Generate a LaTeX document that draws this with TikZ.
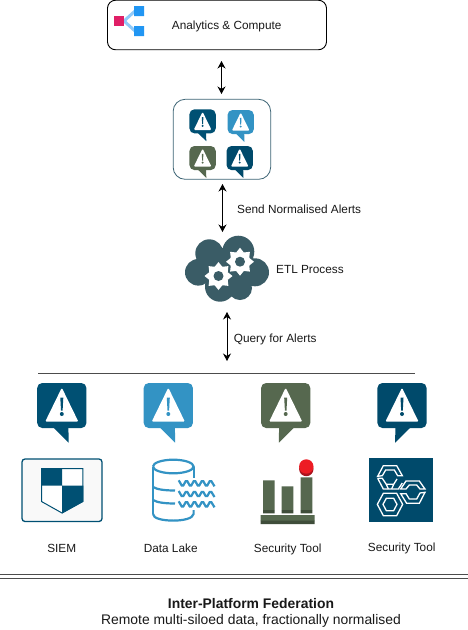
\documentclass[tikz,border=0pt]{standalone}
\usepackage{fontspec}
\usetikzlibrary{arrows.meta}
\setmainfont{Liberation Sans}
\definecolor{alA}{HTML}{005073}
\definecolor{alB}{HTML}{3393C4}
\definecolor{alC}{HTML}{56684F}
\definecolor{alD}{HTML}{004A6B}
\definecolor{cloudc}{HTML}{3A5C66}
\definecolor{boxedge}{HTML}{3D6475}
\definecolor{darkgreen}{HTML}{3F4D3A}
\definecolor{pinkc}{HTML}{E01F66}
\definecolor{bluec}{HTML}{2196F3}
\definecolor{lightb}{HTML}{90CAF9}
\definecolor{paper}{HTML}{F9F9F9}
\definecolor{redtop}{HTML}{ED1C24}
\definecolor{redlow}{HTML}{AA141E}
\tikzset{
  lbl/.style={font=\fontsize{11.8}{13}\selectfont,text=black!90,inner sep=0pt},
  biarrow/.style={{Stealth[length=7.5pt,width=8pt]}-{Stealth[length=7.5pt,width=8pt]},line width=0.9pt,black},
  hrule/.style={line width=0.9pt,black!70},
  hexline/.style={draw=white,line width=1.3pt,line join=miter},
  wavy/.style={draw=alB,line width=2.2pt,rounded corners=1.6pt},
}
\newcommand{\alertb}[5]{%
  \begin{scope}[shift={(#1,#2)},xscale=#4*#3,yscale=#3]
    \fill[#5,rounded corners=5pt] (-24.6,0) rectangle (24.6,45);
    \fill[#5] (-8.5,44.5) -- (6.9,59.7) -- (6.6,44.5) -- cycle;
    \fill[white,rounded corners=1.2pt] (0,4.7) -- (16.6,38.7) -- (-16.6,38.7) -- cycle;
    \fill[#5] (-1.5,14.7) -- (1.5,14.7) -- (0.8,27.5) -- (-0.8,27.5) -- cycle;
    \fill[#5] (0,31) circle (2);
  \end{scope}}
\newcommand{\gearicon}[2]{%
  \begin{scope}[shift={(#1,#2)}]
    \fill[white] (0,0) circle (10);
    \foreach \a in {0,45,...,315}{
      \fill[white,rotate=\a] (-4,-9) -- (0,-14) -- (4,-9) -- cycle;
    }
    \fill[cloudc] (0,0) circle (5);
  \end{scope}}
\begin{document}
\begin{tikzpicture}[x=1pt,y=-1pt,line cap=butt]
\useasboundingbox (0,0) rectangle (468,630);
\fill[white] (0,0) rectangle (468,630);
% top box
\node[draw=black,line width=0.9pt,rounded corners=8pt,minimum width=219pt,minimum height=49.5pt,inner sep=0pt] (top) at (217,25) {};
\draw[line width=3pt,lightb] (124,21) -- (135,11) (124,21) -- (135,31);
\fill[pinkc] (114,16) rectangle (124,26);
\fill[bluec] (134,6) rectangle (144,16) (134,26) rectangle (144,36);
\node[lbl] (tlabel) at (226.7,26.2) {Analytics \& Compute};
% small box
\node[draw=boxedge,line width=0.8pt,rounded corners=12pt,minimum width=97.5pt,minimum height=80pt,inner sep=0pt] (small) at (221.9,139.3) {};
\alertb{202.6}{109.3}{0.535}{1}{alA}
\alertb{240.7}{110}{0.535}{1}{alB}
\alertb{202.6}{146}{0.535}{1}{alC}
\alertb{239.7}{146}{0.535}{1}{alD}
% arrows
\coordinate (a1t) at (221.5,61);
\coordinate (a1b) at (221.5,94);
\draw[biarrow] (a1t) -- (a1b);
\coordinate (a2t) at (222.5,184);
\coordinate (a2b) at (222.5,232);
\draw[biarrow] (a2t) -- (a2b);
\coordinate (a3t) at (227,312);
\coordinate (a3b) at (227,361);
\draw[biarrow] (a3t) -- (a3b);
\node[lbl,anchor=west] (send) at (237,209.5) {Send Normalised Alerts};
\node[lbl,anchor=west] (etl) at (276,269) {ETL Process};
\node[lbl,anchor=west] (query) at (233.7,339) {Query for Alerts};
% cloud
\fill[cloudc] (209.3,253.3) circle (14) (238.3,251.7) circle (16) (255,272.3) circle (14)
  (198.3,272.3) circle (13.3) (220,286.7) circle (15) (240,288) circle (12) (225,270) circle (20);
\gearicon{218.5}{276}
\gearicon{240}{261.7}
% rule
\coordinate (r1) at (38,373.5);
\coordinate (r2) at (415,373.5);
\draw[hrule] (r1) -- (r2);
% large alerts
\alertb{61.8}{383}{1}{1}{alA}
\alertb{168.3}{383}{1}{1}{alB}
\alertb{285.7}{383}{1}{-1}{alC}
\alertb{402}{383}{1}{-1}{alD}
% SIEM
\fill[paper,draw=alA,line width=1.3pt,rounded corners=3pt] (22,459) rectangle (102,521.5);
\begin{scope}
  \clip (41,468) -- (83.3,468) -- (83.3,501.7) -- (62,513.5) -- (41,501.7) -- cycle;
  \fill[white] (41,468) rectangle (83.3,514);
  \fill[alA] (41,468) rectangle (62,485.7) (62,485.7) rectangle (83.3,514);
\end{scope}
\draw[alA,line width=1pt,line join=miter] (41.5,468.5) -- (82.8,468.5) -- (82.8,501.5) -- (62,513) -- (41.5,501.5) -- cycle;
% Data lake
\begin{scope}[alB,line width=2.2pt]
  \draw (153,466.5) arc[start angle=180,end angle=540,x radius=20.3,y radius=6.8];
  \draw (153,466.5) -- (153,514);
  \draw (193.6,466.5) -- (193.6,478);
  \draw (153,514) .. controls (153,518.5) and (163,520.6) .. (173.3,520.6) .. controls (183,520.6) and (193,518.5) .. (193.6,514) -- (193.6,510);
  \draw (153,487) .. controls (157,489.5) and (165,490.5) .. (175,490.5);
  \draw (153,500) .. controls (157,502.5) and (165,503.5) .. (175,503.5);
\end{scope}
\foreach \yy in {483.3,494,504.3}{
  \draw[wavy] (178.7,\yy-3) -- (182.5,\yy+3.5) -- (186.5,\yy-3.5) -- (190.5,\yy+3.5) -- (194.5,\yy-3.5) -- (198.5,\yy+3.5) -- (202.5,\yy-3.5) -- (206.5,\yy+3.5) -- (210.5,\yy-3.5) -- (214.5,\yy+3);
}
% Security tool chart
\fill[alC] (263,480.3) rectangle (274.7,510) (281.7,486.3) rectangle (293.3,510) (300.7,477.3) rectangle (312.3,510) (260.7,515) rectangle (314.7,521);
\fill[darkgreen] (263,510) rectangle (274.7,513.3) (281.7,510) rectangle (293.3,513.3) (300.7,510) rectangle (312.3,513.3) (260.7,520.5) rectangle (314.7,524);
\fill[redlow] (306.3,469) circle (7.2);
\fill[redtop] (306.3,466.5) circle (7.2);
% hex icon
\fill[alD] (369.3,458.3) rectangle (432.7,522.3);
\begin{scope}[shift={(365,455)},x=0.3333pt,y=-0.3333pt]
  % hex 3
  \draw[hexline] (37,148) -- (55,115) -- (95,115) -- (113,148) -- (95,182) -- (55,182) -- cycle;
  \draw[hexline] (54,148) -- (64,130) -- (86,130) -- (96,148) -- (86,167) -- (64,167) -- cycle;
  % hex 1
  \draw[hexline] (38,64) -- (55,32) -- (95,32) -- (112,62) -- (98,62) -- (88,45) -- (62,45) -- (52,62) -- cycle;
  \draw[hexline] (38,70) -- (55,102) -- (100,102) -- (112,84);
  \draw[hexline] (38,70) -- (52,70) -- (64,88) -- (86,88) -- (96,72);
  \draw[hexline] (64,88) -- (70,102) (86,88) -- (80,102);
  % hex 2
  \draw[hexline] (107,102) -- (123,78) -- (163,78) -- (180,102) -- (165,102) -- (155,90) -- (133,90) -- (123,102) -- cycle;
  \draw[hexline] (107,116) -- (125,145) -- (163,145) -- (180,112) -- (165,114) -- (155,132) -- (133,132) -- (123,116) -- cycle;
\end{scope}
% labels
\node[lbl] (l1) at (61.7,548) {SIEM};
\node[lbl] (l2) at (170.7,548) {Data Lake};
\node[lbl] (l3) at (287.7,549) {Security Tool};
\node[lbl] (l4) at (401.7,548) {Security Tool};
% double rule
\coordinate (d1) at (0,574.7);
\coordinate (d2) at (468,574.7);
\coordinate (d3) at (0,578.7);
\coordinate (d4) at (468,578.7);
\draw[hrule] (d1) -- (d2);
\draw[hrule] (d3) -- (d4);
\node[lbl,font=\fontsize{13.9}{16}\selectfont\bfseries] (title) at (251,604) {Inter-Platform Federation};
\node[lbl,font=\fontsize{13.9}{16}\selectfont] (sub) at (251,621) {Remote multi-siloed data, fractionally normalised};
\end{tikzpicture}
\end{document}
